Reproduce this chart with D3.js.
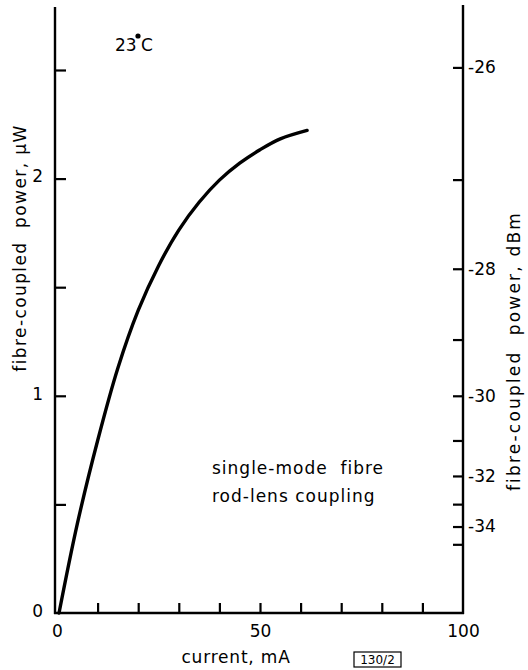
<!DOCTYPE html>
<html>
<head>
<meta charset="utf-8">
<script src="https://cdn.jsdelivr.net/npm/d3@7"></script>
<style>
  html, body { margin: 0; padding: 0; background: #fff; }
  svg { display: block; }
  text { font-family: "DejaVu Sans", sans-serif; fill: #000; }
</style>
</head>
<body>
<svg id="chart" width="528" height="670"></svg>
<script>
// ---- data ----
const currentMA = [0.5, 5, 10, 15, 20, 25, 30, 35, 40, 45, 50, 55, 61.6];
const powerUW   = [0, 0.41, 0.793, 1.128, 1.393, 1.598, 1.763, 1.891, 1.993, 2.071, 2.133, 2.183, 2.222];
const xTicks = [10, 20, 30, 40, 50, 60, 70, 80, 90];
const xTickLabels = [0, 50, 100];
const yTicks = [0.5, 1, 1.5, 2, 2.5];
const yTickLabels = [0, 1, 2];
const dBmTicks = [-26, -27, -28, -29, -30, -31, -32, -33, -34, -35];
const dBmTickLabels = [-26, -28, -30, -32, -34];

const svg = d3.select("#chart");
const x = d3.scaleLinear().domain([0, 100]).range([57, 463]);
const y = d3.scaleLinear().domain([0, 2.79]).range([613, 7]);
const dBmToUW = d => 1000 * Math.pow(10, d / 10);

// left axis: inward ticks
const gL = svg.append("g").attr("transform", "translate(55,0)");
gL.call(d3.axisRight(y).tickValues(yTicks).tickSize(11).tickFormat(""));
gL.append("g").call(d3.axisLeft(y).tickValues(yTickLabels).tickSize(0).tickPadding(12)
  .tickFormat(d3.format("d")));

// right axis: dBm, inward ticks
const gR = svg.append("g").attr("transform", "translate(463,0)");
gR.call(d3.axisLeft(y).tickValues(dBmTicks.map(dBmToUW)).tickSize(10).tickFormat(""));
gR.append("g").call(d3.axisRight(y).tickValues(dBmTickLabels.map(dBmToUW))
  .tickSize(0).tickPadding(5)
  .tickFormat(v => String(Math.round(10 * Math.log10(v / 1000)))));

// bottom axis: inward ticks
const gB = svg.append("g").attr("transform", "translate(0,613)");
gB.call(d3.axisTop(x).tickValues(xTicks).tickSize(10).tickFormat(""));
gB.append("g").call(d3.axisBottom(x).tickValues(xTickLabels).tickSize(0).tickPadding(12));

svg.selectAll(".domain").remove();
svg.selectAll(".tick line").attr("stroke", "#000").attr("stroke-width", 2.2);
svg.selectAll(".tick text").attr("font-size", 17).attr("fill", "#000");
gL.selectAll(".tick text").attr("dy", "0.2em");

// axis frame lines
svg.append("line").attr("x1", 55).attr("x2", 55).attr("y1", 7).attr("y2", 614)
  .attr("stroke", "#000").attr("stroke-width", 2.4);
svg.append("line").attr("x1", 463).attr("x2", 463).attr("y1", 5).attr("y2", 614)
  .attr("stroke", "#000").attr("stroke-width", 2.4);
svg.append("line").attr("x1", 54).attr("x2", 464).attr("y1", 613).attr("y2", 613)
  .attr("stroke", "#000").attr("stroke-width", 2.4);

// curve
const pts = currentMA.map((c, i) => [c, powerUW[i]]);
svg.append("path")
  .attr("d", d3.line().x(d => x(d[0])).y(d => y(d[1])).curve(d3.curveCatmullRom.alpha(0.5))(pts))
  .attr("fill", "none").attr("stroke", "#000").attr("stroke-width", 3.4)
  .attr("stroke-linecap", "round");

// axis titles
svg.append("text").attr("transform", "translate(26,248) rotate(-90)")
  .attr("text-anchor", "middle").attr("font-size", 17).attr("letter-spacing", 1.4)
  .attr("xml:space", "preserve")
  .text("fibre-coupled  power, \u00b5W");
svg.append("text").attr("transform", "translate(520,351) rotate(-90)")
  .attr("text-anchor", "middle").attr("font-size", 17).attr("letter-spacing", 2.2)
  .attr("xml:space", "preserve")
  .text("fibre-coupled  power, dBm");
svg.append("text").attr("x", 236).attr("y", 663)
  .attr("text-anchor", "middle").attr("font-size", 17).attr("letter-spacing", 0.8)
  .text("current, mA");

// annotations
svg.append("text").attr("x", 115).attr("y", 51).attr("font-size", 17).text("23");
svg.append("circle").attr("cx", 138).attr("cy", 36).attr("r", 2.6).attr("fill", "#000");
svg.append("text").attr("x", 141).attr("y", 51).attr("font-size", 17).text("C");
svg.append("text").attr("x", 212).attr("y", 474).attr("font-size", 17).attr("letter-spacing", 1)
  .attr("xml:space", "preserve").text("single-mode  fibre");
svg.append("text").attr("x", 212).attr("y", 502).attr("font-size", 17).attr("letter-spacing", 1)
  .text("rod-lens coupling");

// figure code box
svg.append("rect").attr("x", 354).attr("y", 652).attr("width", 47).attr("height", 15)
  .attr("fill", "none").attr("stroke", "#000").attr("stroke-width", 1.2);
svg.append("text").attr("x", 377.5).attr("y", 664).attr("text-anchor", "middle")
  .attr("font-size", 12).text("130/2");
</script>
</body>
</html>
